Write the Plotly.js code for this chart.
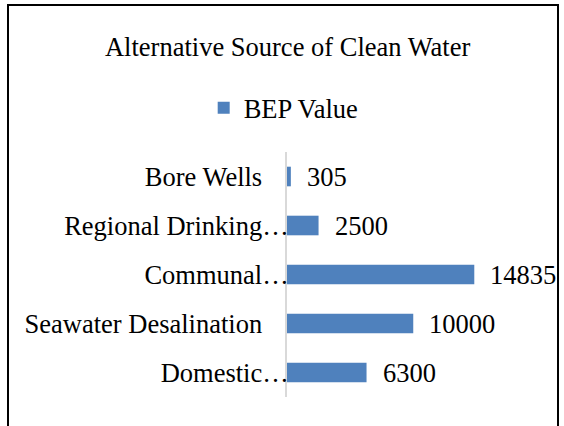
<!DOCTYPE html>
<html>
<head>
<meta charset="utf-8">
<script src="https://cdn.plot.ly/plotly-3.0.1.min.js"></script>
<style>
html,body{margin:0;padding:0;background:#fff;}
#wrap{position:relative;width:564px;height:426px;overflow:hidden;}
#chart{position:absolute;left:0;top:0;width:564px;height:426px;}
#frame{position:absolute;left:7px;top:4px;width:548px;height:440px;border:2px solid #000;pointer-events:none;}
</style>
</head>
<body>
<div id="wrap"><div id="chart"></div><div id="frame"></div></div>
<script>
var categories = ["Bore Wells", "Regional Drinking\u2026", "Communal\u2026", "Seawater Desalination", "Domestic\u2026"];
var tickLabels = ["Bore Wells\u00A0\u00A0\u00A0\u00A0", "Regional Drinking\u2026", "Communal\u2026", "Seawater Desalination\u00A0\u00A0\u00A0\u00A0", "Domestic\u2026"];
var bepValues = [305, 2500, 14835, 10000, 6300];
var seriesName = "BEP Value";

var FONT = "Liberation Serif, Times New Roman, serif";
var FS = 26.5;
var BLUE = '#4F81BD';

var trace = {
  type: 'bar',
  orientation: 'h',
  name: seriesName,
  y: categories,
  x: bepValues,
  marker: {color: BLUE},
  showlegend: true,
  hoverinfo: 'none'
};

var annotations = bepValues.map(function (v, i) {
  return {
    x: v, y: categories[i], xref: 'x', yref: 'y',
    text: String(v), showarrow: false,
    xanchor: 'left', yanchor: 'middle', xshift: 14,
    font: {family: FONT, size: FS, color: '#000'}
  };
});

var layout = {
  width: 564, height: 426,
  paper_bgcolor: '#fff', plot_bgcolor: '#fff',
  margin: {l: 287, r: 75, t: 152, b: 29},
  font: {family: FONT, size: FS, color: '#000'},
  title: {
    text: 'Alternative Source of Clean Water',
    font: {family: FONT, size: FS, color: '#000'},
    x: 0.51, xanchor: 'center', xref: 'container',
    y: 1 - 47 / 426, yanchor: 'middle', yref: 'container'
  },
  legend: {
    orientation: 'h',
    xref: 'container', yref: 'container',
    x: 0.503, xanchor: 'center',
    y: 1 - 108 / 426, yanchor: 'middle',
    font: {family: FONT, size: FS, color: '#000'},
    itemwidth: 30,
    bgcolor: 'rgba(0,0,0,0)'
  },
  bargap: 0.6,
  xaxis: {
    range: [0, 16000],
    showgrid: false, zeroline: false, showline: false,
    showticklabels: false, ticks: '', fixedrange: true
  },
  yaxis: {
    type: 'category',
    categoryorder: 'array', categoryarray: categories,
    tickmode: 'array', tickvals: categories, ticktext: tickLabels,
    autorange: 'reversed',
    showgrid: false, zeroline: false,
    showline: true, linecolor: '#d9d9d9', linewidth: 2,
    ticks: '', ticklabelstandoff: -9,
    tickfont: {family: FONT, size: FS, color: '#000'},
    fixedrange: true
  },
  annotations: annotations
};

Plotly.newPlot('chart', [trace], layout, {displayModeBar: false, staticPlot: true});
</script>
</body>
</html>
